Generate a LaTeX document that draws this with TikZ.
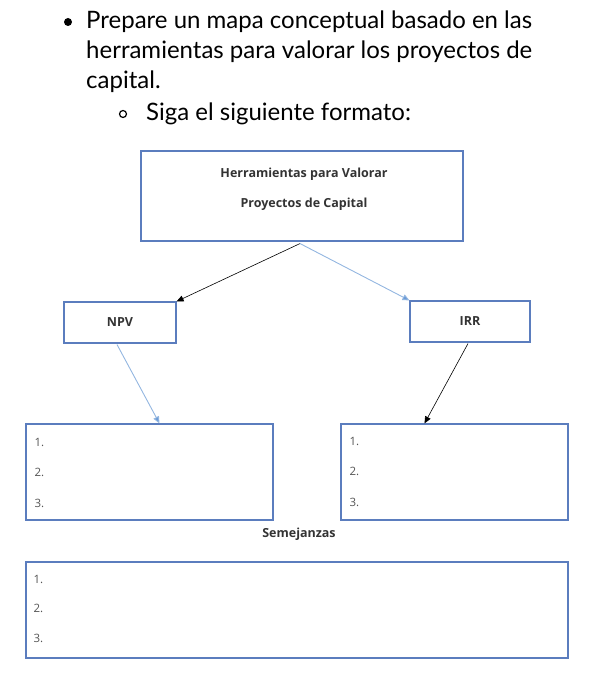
\documentclass[tikz,border=0pt]{standalone}
\usepackage{fontspec}
\setmainfont{Lato}
\newfontfamily\diag{Open Sans}
\usetikzlibrary{arrows.meta,calc}
\definecolor{boxblue}{HTML}{5B7DBE}
\definecolor{lightarr}{HTML}{93B6E0}
\definecolor{tipblue}{HTML}{6A9BD8}
\definecolor{txtgray}{HTML}{333333}
\definecolor{numgray}{HTML}{555555}
\tikzset{
  box/.style={draw=boxblue, line width=1.1pt, fill=white, inner sep=0pt},
  lbl/.style={font=\diag\bfseries\fontsize{12.5}{15}\selectfont, text=txtgray},
  num/.style={font=\diag\fontsize{11.5}{14}\selectfont, text=numgray, anchor=west},
  blackarr/.style={draw=black, line width=0.6pt, -{Triangle[length=7pt,width=6pt]}},
  bluearr/.style={draw=lightarr, line width=0.9pt, -{Triangle[length=7pt,width=6pt,fill=tipblue]}},
  headtxt/.style={font=\fontsize{24}{30}\selectfont, anchor=west, text=black, inner sep=0pt}
}
\begin{document}
\begin{tikzpicture}[x=1pt,y=-1pt]
\useasboundingbox (0,0) rectangle (594,700);
% header text
\node[circle, fill=black, minimum size=8pt, inner sep=0pt] (b1) at (68,22) {};
\node[headtxt] (l1) at (86,22) {Prepare un mapa conceptual basado en las};
\node[headtxt] (l2) at (86,52) {herramientas para valorar los proyectos de};
\node[headtxt] (l3) at (86,82) {capital.};
\node[circle, draw=black, line width=1.2pt, minimum size=7pt, inner sep=0pt] (b2) at (123,114) {};
\node[headtxt] (l4) at (146,114) {Siga el siguiente formato:};
% boxes
\node[box, minimum width=322pt, minimum height=90pt] (top) at (302,196) {};
\node[lbl] (t1) at (304,174) {Herramientas para Valorar};
\node[lbl] (t2) at (304,204) {Proyectos de Capital};
\node[box, minimum width=112pt, minimum height=41pt, lbl] (npv) at (120,322.5) {NPV};
\node[box, minimum width=120pt, minimum height=41pt, lbl] (irr) at (470,321.5) {IRR};
\node[box, minimum width=247pt, minimum height=96pt] (lbox) at (149.5,472) {};
\node[box, minimum width=227pt, minimum height=96pt] (rbox) at (454.5,472) {};
\node[lbl] (sem) at (299,534) {Semejanzas};
\node[box, minimum width=542pt, minimum height=96pt] (bbox) at (297,610) {};
% numbers
\node[num] (l1n) at (31,442) {1.};
\node[num] (l2n) at (31,472) {2.};
\node[num] (l3n) at (31,503) {3.};
\node[num] (r1n) at (346,441) {1.};
\node[num] (r2n) at (346,471) {2.};
\node[num] (r3n) at (346,502) {3.};
\node[num] (b1n) at (30,579) {1.};
\node[num] (b2n) at (30,608) {2.};
\node[num] (b3n) at (30,638) {3.};
% connectors
\coordinate (ts) at ($(top.south)+(-2,2)$);
\draw[blackarr] (ts) -- (npv.north east);
\draw[bluearr] (ts) -- (irr.north west);
\draw[bluearr] ($(npv.south)+(-3,1)$) -- ($(lbox.north)+(10,0)$);
\draw[blackarr] ($(irr.south)+(-2,1)$) -- ($(rbox.north)+(-30,0)$);
\end{tikzpicture}
\end{document}
